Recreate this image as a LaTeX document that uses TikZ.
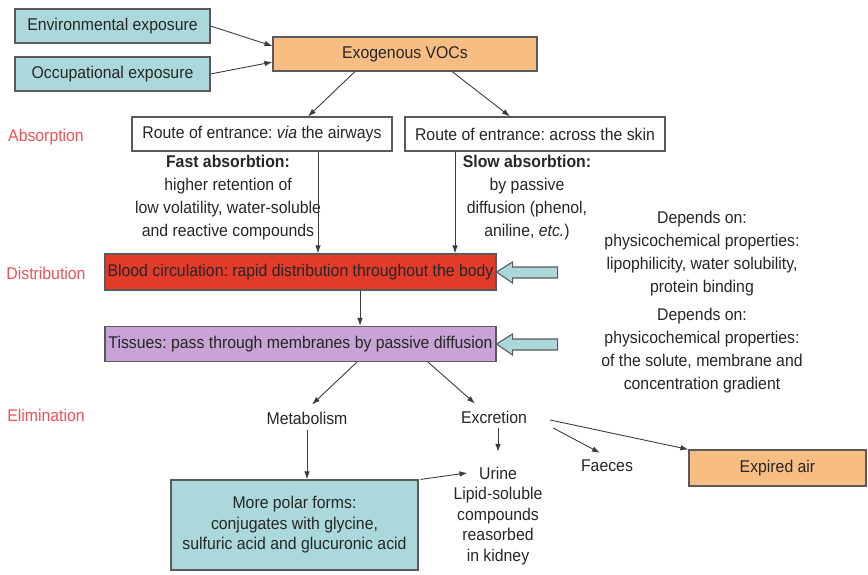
\documentclass[tikz,border=0pt]{standalone}
\usepackage{fontspec}
\setmainfont[FakeStretch=0.93]{Liberation Sans}
\usetikzlibrary{arrows.meta,calc}
\frenchspacing

\definecolor{ink}{HTML}{262626}
\definecolor{edge}{HTML}{5A5A5A}
\definecolor{wire}{HTML}{3C3C3C}
\definecolor{cyanbox}{HTML}{ABD9DB}
\definecolor{orangebox}{HTML}{F8BD82}
\definecolor{redbox}{HTML}{E23B2A}
\definecolor{purplebox}{HTML}{C7A3D6}
\definecolor{phase}{HTML}{F0505A}

\begin{document}
\begin{tikzpicture}[x=1pt,y=-1pt,
  txt/.style={font=\fontsize{17}{23}\selectfont, text=ink, inner sep=0pt, align=center},
  tight/.style={font=\fontsize{17}{20.5}\selectfont},
  box/.style={txt, draw=edge, line width=1.1pt, minimum height=34},
  lab/.style={txt, text=phase},
  arr/.style={draw=wire, line width=0.9pt, -{Latex[length=8pt,width=5.5pt]}},
  blockarrow/.style={draw=edge, line width=1.1pt, fill=cyanbox, line join=miter}
]
\useasboundingbox (0,0) rectangle (868,575);

% exposure sources and the compounds
\node[box, fill=cyanbox, minimum width=195] (env) at (112.5,26) {Environmental exposure};
\node[box, fill=cyanbox, minimum width=195] (occ) at (112.5,74) {Occupational exposure};
\node[box, fill=orangebox, minimum width=264] (exo) at (405,54) {Exogenous VOCs};

% phase labels
\node[lab] (labAbs) at (46,137) {Absorption};
\node[lab] (labDis) at (46,273) {Distribution};
\node[lab] (labEli) at (46,415) {Elimination};

% routes of entrance
\node[box, fill=white, minimum width=260] (air) at (262,134) {Route of entrance: \textit{via} the airways};
\node[box, fill=white, minimum width=260] (skin) at (535,134) {Route of entrance: across the skin};

\node[txt] (fast) at (228,198) {\textbf{Fast absorbtion:}\\higher retention of\\low volatility, water-soluble\\and reactive compounds};
\node[txt] (slow) at (527,198) {\textbf{Slow absorbtion:}\\by passive\\diffusion (phenol,\\aniline, \textit{etc.})};

% distribution
\node[box, fill=redbox, minimum width=391, minimum height=36] (blood) at (300.5,272) {Blood circulation: rapid distribution throughout the body};
\node[box, fill=purplebox, minimum width=391, minimum height=35] (tis) at (300.5,344) {Tissues: pass through membranes by passive diffusion};

\node[txt] (dep1) at (702,254) {Depends on:\\physicochemical properties:\\lipophilicity, water solubility,\\protein binding};
\node[txt] (dep2) at (702,351) {Depends on:\\physicochemical properties:\\of the solute, membrane and\\concentration gradient};

% elimination
\node[txt] (met) at (307,418) {Metabolism};
\node[txt] (exc) at (494,417) {Excretion};
\node[box, tight, fill=cyanbox, minimum width=247, minimum height=90] (polar) at (294.5,525) {More polar forms:\\conjugates with glycine,\\sulfuric acid and glucuronic acid};
\node[txt, tight] (urine) at (498,516) {Urine\\Lipid-soluble\\compounds\\reasorbed\\in kidney};
\node[txt] (faeces) at (607,466) {Faeces};
\node[box, fill=orangebox, minimum width=177, minimum height=36] (exp) at (777.5,468) {Expired air};

% connectors
\draw[arr] (env.east) -- ($(exo.west)+(0,-8)$);
\draw[arr] (occ.east) -- ($(exo.west)+(0,8)$);
\draw[arr] ($(exo.south)+(-50,0)$) -- ($(air.north)+(46,0)$);
\draw[arr] ($(exo.south)+(47,0)$) -- ($(skin.north)+(-25,0)$);

\coordinate (airOut) at ($(air.south)+(56,0)$);
\draw[arr] (airOut) -- (airOut |- blood.north);
\coordinate (skinOut) at ($(skin.south)+(-80,0)$);
\draw[arr] (skinOut) -- (skinOut |- blood.north);
\coordinate (bloodOut) at ($(blood.south)+(59.5,0)$);
\draw[arr] (bloodOut) -- (bloodOut |- tis.north);

\draw[arr] ($(tis.south)+(56.5,0)$) -- ($(met.north)+(5,-7)$);
\draw[arr] ($(tis.south)+(127.5,0)$) -- ($(exc.north)+(-19,-7)$);

\coordinate (metOut) at ($(met.south)+(0,6)$);
\draw[arr] (metOut) -- (metOut |- polar.north);
\draw[arr] ($(polar.north east)+(2,0)$) -- ($(urine.north west)+(14,6)$);

\draw[arr] ($(exc.south)+(4,5)$) -- ($(urine.north)+(0,-15)$);
\draw[arr] ($(exc.east)+(26,11)$) -- ($(faeces.north)+(-7,-7)$);
\draw[arr] ($(exc.east)+(23,3)$) -- (exp.north west);

% block arrows feeding the distribution boxes
\draw[blockarrow] (blood.east) -- ++(16,-10) -- ++(0,5) -- ++(45,0) -- ++(0,11) -- ++(-45,0) -- ++(0,5) -- cycle;
\draw[blockarrow] (tis.east) -- ++(16,-10) -- ++(0,5) -- ++(45,0) -- ++(0,11) -- ++(-45,0) -- ++(0,5) -- cycle;
\end{tikzpicture}
\end{document}
